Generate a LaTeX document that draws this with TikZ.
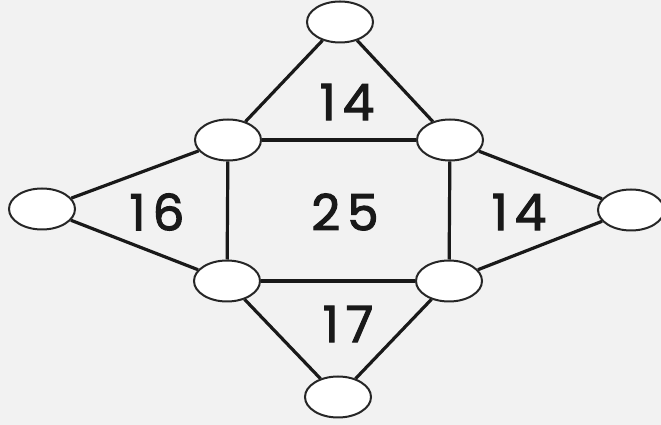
\documentclass[tikz,border=0pt]{standalone}
\usepackage{fontspec}
\setmainfont{Poppins}
\newfontfamily\numfont{Poppins}[FakeBold=2.2,LetterSpace=14]
\usetikzlibrary{shapes.geometric}
\begin{document}
\begin{tikzpicture}[x=1pt,y=1pt,
  dot/.style={ellipse,draw=black!85,line width=2pt,fill=white,minimum width=66pt,minimum height=41pt,inner sep=0pt},
  edge/.style={line width=3.2pt,draw=black!90},
  num/.style={font=\numfont\fontsize{50}{50}\selectfont,text=black!90,inner sep=0pt}]
\fill[black!5] (0,0) rectangle (661,425);
\useasboundingbox (0,0) rectangle (661,425);
\node[dot] (T) at (340,403) {};
\node[dot] (TL) at (228,285) {};
\node[dot] (TR) at (450,285) {};
\node[dot] (L) at (42,216) {};
\node[dot] (R) at (631,215) {};
\node[dot] (BL) at (227,144) {};
\node[dot] (BR) at (449,144) {};
\node[dot] (B) at (338,28) {};
\draw[edge] (T) -- (TL);
\draw[edge] (T) -- (TR);
\draw[edge] (TL) -- (TR);
\draw[edge] (TL) -- (BL);
\draw[edge] (TR) -- (BR);
\draw[edge] (BL) -- (BR);
\draw[edge] (L) -- (TL);
\draw[edge] (L) -- (BL);
\draw[edge] (R) -- (TR);
\draw[edge] (R) -- (BR);
\draw[edge] (B) -- (BL);
\draw[edge] (B) -- (BR);
\node[num] (n1) at (347,323) {14};
\node[num] (n2) at (157,213) {16};
\node[num] (n3) at (345,213) {25};
\node[num] (n4) at (519,213) {14};
\node[num] (n5) at (348,101) {17};
\end{tikzpicture}
\end{document}
